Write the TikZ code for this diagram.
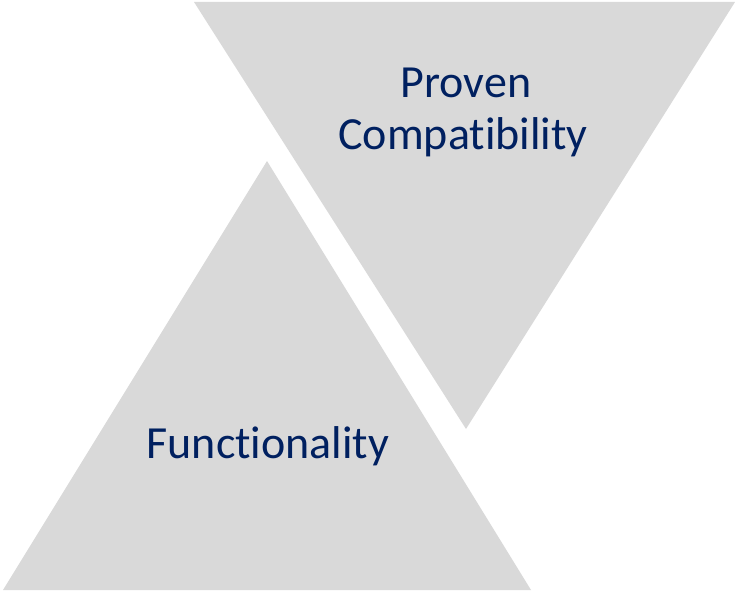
\documentclass[tikz,border=0pt]{standalone}
\usepackage{fontspec}
\setmainfont{Carlito}[Ligatures={NoCommon}]
\definecolor{tri}{HTML}{D9D9D9}
\definecolor{navy}{HTML}{002060}
\begin{document}
\begin{tikzpicture}[x=1pt,y=-1pt,
  tribox/.style={fill=tri,draw=none},
  lbl/.style={text=navy,anchor=base,inner sep=0pt,font=\fontsize{46}{52}\selectfont}]
\useasboundingbox (0,0) rectangle (735,591);
\fill[tri] (194,2) -- (735,2) -- (466,429) -- cycle;
\fill[tri] (267,161) -- (531,590) -- (3,590) -- cycle;
\node[lbl] (p) at (466,98) {Proven};
\node[lbl] (c) at (463,149) {Compatibility};
\node[lbl] (f) at (268,458) {Functionality};
\end{tikzpicture}
\end{document}
